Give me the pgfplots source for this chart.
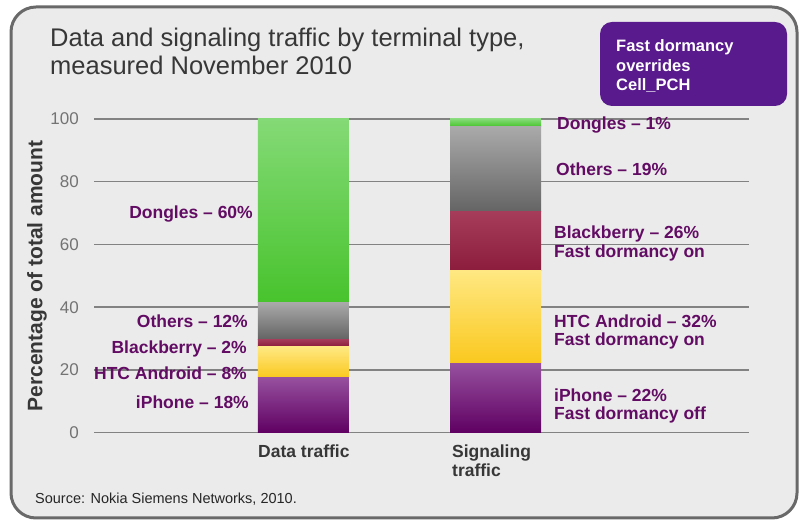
\documentclass[border=0pt]{standalone}
\usepackage{fontspec}
\setmainfont{Liberation Sans}
\usepackage{pgfplots}
\pgfplotsset{compat=1.18}
\definecolor{bgc}{RGB}{235,235,235}
\definecolor{framec}{RGB}{105,105,105}
\definecolor{labc}{RGB}{98,12,100}
\definecolor{boxc}{RGB}{88,26,140}
\definecolor{titlec}{RGB}{55,55,55}
\definecolor{gridc}{RGB}{130,130,130}
\definecolor{tickc}{RGB}{115,115,115}
\definecolor{iphT}{RGB}{150,80,158}
\definecolor{iphB}{RGB}{95,0,98}
\definecolor{htcT}{RGB}{255,232,130}
\definecolor{htcB}{RGB}{250,200,30}
\definecolor{bbT}{RGB}{165,60,90}
\definecolor{bbB}{RGB}{140,28,60}
\definecolor{othT}{RGB}{170,170,170}
\definecolor{othB}{RGB}{100,100,100}
\definecolor{donT}{RGB}{132,218,118}
\definecolor{donB}{RGB}{72,195,45}
\newcommand{\lab}{\fontsize{17.5}{18}\selectfont\bfseries}
\pgfplotsset{
  baseaxis/.style={
    at={(94pt,93.3pt)}, anchor=south west,
    scale only axis, width=655pt, height=313.7pt,
    xmin=-0.0911, xmax=3.3203, ymin=0, ymax=100,
    axis line style={draw=none},
    major tick length=0pt,
    xtick=\empty,
    ybar stacked, bar width=91pt,
    clip=false,
  },
  iph/.style={draw=none, top color=iphT, bottom color=iphB},
  htc/.style={draw=none, top color=htcT, bottom color=htcB},
  bb/.style={draw=none, top color=bbT, bottom color=bbB},
  oth/.style={draw=none, top color=othT, bottom color=othB},
  don/.style={draw=none, top color=donT, bottom color=donB},
}
\begin{document}
\begin{tikzpicture}[x=1pt,y=1pt]
\useasboundingbox (0,0) rectangle (805,526);
\fill[white] (0,0) rectangle (805,526);
\draw[framec, line width=3pt, fill=bgc, rounded corners=25pt] (11,8) rectangle (797,519);
% title
\node[anchor=base west, inner sep=0, text=titlec, font=\fontsize{25.5}{28}\selectfont] at (50,479) {Data and signaling traffic by terminal type,};
\node[anchor=base west, inner sep=0, text=titlec, font=\fontsize{25.5}{28}\selectfont] at (50,451) {measured November 2010};
% box
\fill[boxc, rounded corners=12pt] (600,420) rectangle (787,504);
\node[anchor=base west, inner sep=0, text=white, font=\fontsize{16.5}{18}\selectfont\bfseries] at (616,474) {Fast dormancy};
\node[anchor=base west, inner sep=0, text=white, font=\fontsize{16.5}{18}\selectfont\bfseries] at (616,454) {overrides};
\node[anchor=base west, inner sep=0, text=white, font=\fontsize{16.5}{18}\selectfont\bfseries] at (616,435) {Cell\_PCH};
% data traffic bar, with grid and y ticks
\begin{axis}[
  baseaxis,
  ytick={0,20,40,60,80,100},
  ymajorgrids, grid style={gridc, line width=1.5pt},
  /pgf/number format/assume math mode=true,
  yticklabel style={font=\fontsize{17}{17}\selectfont, text=tickc, inner sep=0pt, anchor=east, xshift=-15pt},
]
\addplot[iph] coordinates {(1,17.5)};
\addplot[htc] coordinates {(1,9.9)};
\addplot[bb]  coordinates {(1,2.4)};
\addplot[oth] coordinates {(1,11.8)};
\addplot[don] coordinates {(1,58.4)};
\end{axis}
% signaling traffic bar
\begin{axis}[baseaxis, ytick=\empty]
\addplot[iph] coordinates {(2,22.1)};
\addplot[htc] coordinates {(2,29.5)};
\addplot[bb]  coordinates {(2,18.8)};
\addplot[oth] coordinates {(2,27.2)};
\addplot[don] coordinates {(2,2.4)};
\end{axis}
% left labels
\node[anchor=base east, inner sep=0, text=labc, font=\lab] at (253,307.5) {Dongles – 60\%};
\node[anchor=base east, inner sep=0, text=labc, font=\lab] at (248,198) {Others – 12\%};
\node[anchor=base east, inner sep=0, text=labc, font=\lab] at (247,172.5) {Blackberry – 2\%};
\node[anchor=base east, inner sep=0, text=labc, font=\lab] at (247,146.5) {HTC Android – 8\%};
\node[anchor=base east, inner sep=0, text=labc, font=\lab] at (249,117) {iPhone – 18\%};
% right labels
\node[anchor=base west, inner sep=0, text=labc, font=\lab] at (557,396.7) {Dongles – 1\%};
\node[anchor=base west, inner sep=0, text=labc, font=\lab] at (556,350.7) {Others – 19\%};
\node[anchor=base west, inner sep=0, text=labc, font=\lab] at (554,287.7) {Blackberry – 26\%};
\node[anchor=base west, inner sep=0, text=labc, font=\lab] at (554,268.7) {Fast dormancy on};
\node[anchor=base west, inner sep=0, text=labc, font=\lab] at (554,198.7) {HTC Android – 32\%};
\node[anchor=base west, inner sep=0, text=labc, font=\lab] at (554,180.7) {Fast dormancy on};
\node[anchor=base west, inner sep=0, text=labc, font=\lab] at (554,124.7) {iPhone – 22\%};
\node[anchor=base west, inner sep=0, text=labc, font=\lab] at (554,106.7) {Fast dormancy off};
% x labels
\node[anchor=base west, inner sep=0, text=titlec, font=\lab] at (258,68) {Data traffic};
\node[anchor=base west, inner sep=0, text=titlec, font=\lab] at (452,68) {Signaling};
\node[anchor=base west, inner sep=0, text=titlec, font=\lab] at (452,49) {traffic};
% y label
\node[rotate=90, inner sep=0, text=titlec, font=\fontsize{21}{21}\selectfont\bfseries] at (37,250) {Percentage of total amount};
% source
\node[anchor=base west, inner sep=0, text=black!85, font=\fontsize{14.5}{15}\selectfont] at (35,22) {Source: Nokia Siemens Networks, 2010.};
\end{tikzpicture}
\end{document}
